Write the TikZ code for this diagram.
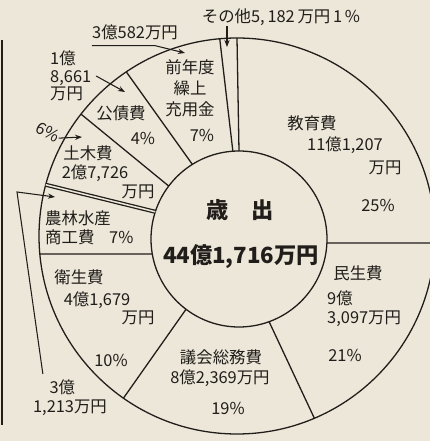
\documentclass[tikz,border=0pt]{standalone}
\usepackage{fontspec}
\setmainfont{Noto Sans CJK JP}
\usepackage{xcolor}
\usetikzlibrary{arrows.meta,calc}
\definecolor{paper}{RGB}{236,231,217}
\definecolor{ink}{RGB}{32,29,26}

\begin{document}
\begin{tikzpicture}[x=0.03cm,y=0.03cm,
    lbl/.style={inner sep=0pt, text=ink, font=\fontsize{14}{16}\selectfont},
    big/.style={inner sep=0pt, text=ink, font=\fontsize{19}{22}\selectfont\bfseries},
    rim/.style={draw=ink, line width=1.1pt},
    arr/.style={draw=ink, line width=0.9pt, -{Stealth[length=6pt,width=4.5pt]}}]
    \fill[paper] (0,0) rectangle (430,441);
    \useasboundingbox (0,0) rectangle (430,441);
    \draw[ink, line width=1.3pt] (2,16) -- (2,401);
    \begin{scope}
        \clip (0,0) rectangle (430,441);
        \coordinate (oc) at (237,205);
        \coordinate (ic) at (239,202);
        \draw[rim] (oc) circle[radius=198];
        \draw[rim] (ic) circle[radius=88];
        % slice borders, inner angle / outer angle
        \foreach \i/\o in {90/90, 94/95, 122/124, 143/142, 189.8/185.2, 233/235, 290/293, 357.4/358} {
            \draw[rim] ($(ic)+(\i:88)$) -- ($(oc)+(\o:198)$);
        }
        \draw[rim, double=paper, double distance=1.3pt] ($(ic)+(162:88)$) -- ($(oc)+(165:198)$);
    \end{scope}

    \node[big] (title) at (240,231) {歳\hspace{1em}出};
    \node[big] (total) at (241,184) {44億1,716万円};

    \node[lbl] (kyoiku) at (312,318) {教育費};
    \node[lbl] (kyoikuamt) at (345,296) {11億1,207};
    \node[lbl] (kyoikuyen) at (385,273) {万円};
    \node[lbl] (kyoikupct) at (378,236) {25\%};

    \node[lbl] (minsei) at (358,168) {民生費};
    \node[lbl, align=left, anchor=west] (minseiamt) at (327,132) {9億\\3,097万円};
    \node[lbl] (minseipct) at (345,86) {21\%};

    \node[lbl] (gikai) at (221,84) {議会総務費};
    \node[lbl] (gikaiamt) at (220,63) {8億2,369万円};
    \node[lbl] (gikaipct) at (228,33) {19\%};

    \node[lbl] (eisei) at (79,164) {衛生費};
    \node[lbl] (eiseiamt) at (97,141) {4億1,679};
    \node[lbl] (eiseiyen) at (138,123) {万円};
    \node[lbl] (eiseipct) at (111,81) {10\%};

    \node[lbl, align=left, anchor=west] (norin) at (45,213) {農林水産\\商工費\hspace{0.9em}7\%};
    \node[lbl, align=left] (norinamt) at (70,43) {\hspace*{1em}3億\\1,213万円};

    \node[lbl] (doboku) at (88,288) {土木費};
    \node[lbl] (dobokuamt) at (95,268) {2億7,726};
    \node[lbl] (dobokuyen) at (138,249) {万円};
    \node[lbl, rotate=-30] (sixlbl) at (48,309) {6\%};

    \node[lbl] (kosai) at (121,328) {公債費};
    \node[lbl] (kosaipct) at (143,303) {4\%};
    \node[lbl, align=left, anchor=west, font=\fontsize{14}{15}\selectfont] (kosaiamt) at (50,365) {1億\\8,661\\万円};

    \node[lbl, align=center, font=\fontsize{14}{18}\selectfont] (zen) at (190,353) {前年度\\繰上\\充用金};
    \node[lbl] (zenpct) at (202,306) {7\%};
    \node[lbl] (zenlbl) at (135,409) {3億582万円};

    \node[lbl] (otherlbl) at (281,424) {その他5,\,182\,万円\,1\,\%};

    % leaders
    \coordinate (othertip) at (227,394);
    \coordinate (zentip) at (185,388);
    \coordinate (kosaitip) at (125,349);
    \coordinate (dobokutip) at (82,304);
    \coordinate (norinbend) at (17,249);
    \coordinate (norintip) at (55,244);
    \draw[arr] (othertip |- otherlbl.south) -- (othertip);
    \draw[arr] ([yshift=-5pt]zenlbl.south west) -- ++(63,0) -- (zentip);
    \draw[arr] ([xshift=4pt]kosaiamt.east) -- (kosaitip);
    \draw[arr] (sixlbl.east) -- (dobokutip);
    \draw[arr] ($(norinamt.north west)+(10,6)$) -- (norinbend) -- (norintip);
\end{tikzpicture}
\end{document}
